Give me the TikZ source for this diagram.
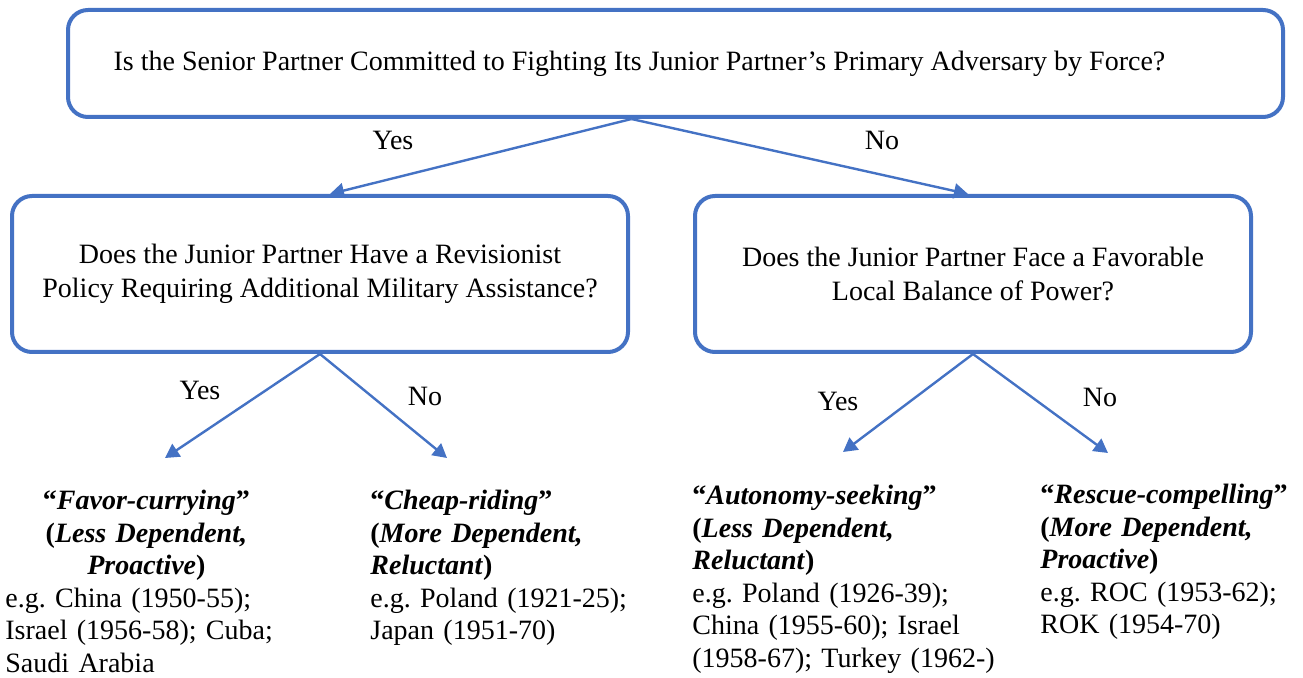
\documentclass[tikz,border=0pt]{standalone}
\usepackage{fontspec}
\setmainfont{Liberation Serif}
\usetikzlibrary{arrows.meta,positioning,shapes}
\usepackage{xcolor}
\definecolor{blue}{RGB}{68, 114, 196}
\frenchspacing

\begin{document}
\begin{tikzpicture}[x=0.5pt, y=-0.5pt, font=\fontsize{14}{17}\selectfont,
        question/.style={
                rectangle,
                rounded corners=10pt,
                draw=blue,
                line width=2pt,
                align=center,
                inner sep=0pt
            },
        branch/.style={
                draw=blue,
                line width=1.2pt,
                -{Triangle[length=7pt, width=7.5pt]}
            },
        outcome/.style={
                anchor=north west,
                inner sep=0pt,
                align=left,
                text width=#1,
                font=\fontsize{14}{16.25}\selectfont
            }]
            \useasboundingbox (0,0) rectangle (1303,678);

            % questions
            \node (1) [
                question,
                minimum width=607.5pt,
                minimum height=53.5pt
            ] at (675.5,63.5)
            {Is the Senior Partner Committed to Fighting Its Junior Partner’s Primary Adversary by Force?\hspace*{36pt}};

            \node (2) [
                question,
                minimum width=308pt,
                minimum height=78pt
            ] at (320,274)
            {Does the Junior Partner Have a Revisionist\\
                Policy Requiring Additional Military Assistance?};

            \node (3) [
                question,
                minimum width=278pt,
                minimum height=78pt
            ] at (973,274)
            {Does the Junior Partner Face a Favorable\\
                Local Balance of Power?};

            % outcomes
            \node (4) [outcome=141pt] at (5,490)
            {
                {\centering
                    \textbf{“\textit{Favor-currying}”}\\
                    \textbf{(\textit{Less Dependent,}}\\
                    \textbf{\textit{Proactive})}\par}
                e.g. China (1950-55);\\
                Israel (1956-58); Cuba;\\
                Saudi Arabia
            };

            \node (5) [outcome=150pt] at (370,490)
            {
                \textbf{“\textit{Cheap-riding}”}\\
                \textbf{(\textit{More Dependent,}}\\
                \textbf{\textit{Reluctant})}\\
                e.g. Poland (1921-25);\\
                Japan (1951-70)
            };

            \node (6) [outcome=170pt] at (692,485)
            {
                \textbf{“\textit{Autonomy-seeking}”}\\
                \textbf{(\textit{Less Dependent,}}\\
                \textbf{\textit{Reluctant})}\\
                e.g. Poland (1926-39);\\
                China (1955-60); Israel\\
                (1958-67); Turkey (1962-)
            };

            \node (7) [outcome=130pt] at (1040,484)
            {
                \textbf{“\textit{Rescue-compelling}”}\\
                \textbf{(\textit{More Dependent,}}\\
                \textbf{\textit{Proactive})}\\
                e.g. ROC (1953-62);\\
                ROK (1954-70)
            };

            % arrow ends above the outcomes
            \coordinate (e4) at (165,458);
            \coordinate (e5) at (447,458);
            \coordinate (e6) at (843,452);
            \coordinate (e7) at (1108,453);

            \draw[branch] ([xshift=-22pt]1.south) to ([xshift=5pt]2.north);
            \draw[branch] ([xshift=-22pt]1.south) to ([xshift=-2.5pt]3.north);
            \draw[branch] (2.south) to (e4);
            \draw[branch] (2.south) to (e5);
            \draw[branch] (3.south) to (e6);
            \draw[branch] (3.south) to (e7);

            % answers
            \node (y1) [inner sep=0pt] at (393,140) {Yes};
            \node (n1) [inner sep=0pt] at (882,140) {No};
            \node (y2) [inner sep=0pt] at (200,390) {Yes};
            \node (n2) [inner sep=0pt] at (425,396) {No};
            \node (y3) [inner sep=0pt] at (838,401) {Yes};
            \node (n3) [inner sep=0pt] at (1100,397) {No};
        \end{tikzpicture}
\end{document}
